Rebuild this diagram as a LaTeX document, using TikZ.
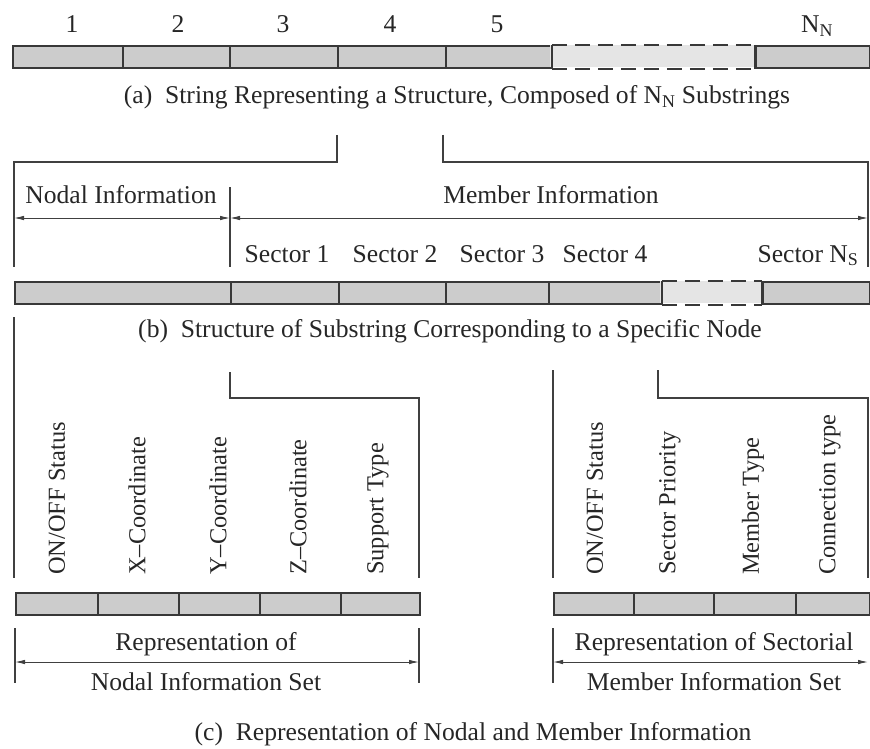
\documentclass[tikz,border=0pt]{standalone}
\usepackage{fontspec}
\setmainfont{Liberation Serif}
\usetikzlibrary{arrows.meta}
\begin{document}
\begin{tikzpicture}[x=1pt,y=-1pt,
  txt/.style={font=\fontsize{25.6}{28}\selectfont, text=black!85, inner sep=0pt},
  vtxt/.style={txt, font=\fontsize{24.4}{27}\selectfont, rotate=90, anchor=west},
  cell/.style={draw=black!78, line width=1.9pt, fill=black!20, inner sep=0pt,
    minimum height=22pt, anchor=north west},
  gapcell/.style={draw=none, fill=black!10, inner sep=0pt,
    minimum height=22pt, anchor=north west},
  gapline/.style={draw=black!78, line width=1.9pt, dash pattern=on 15pt off 8pt},
  bracket/.style={draw=black!75, line width=1.2pt},
  dim/.style={draw=black!75, line width=0.9pt, {Latex[length=10pt,width=4.5pt]}-{Latex[length=10pt,width=4.5pt]}}
]
\useasboundingbox (0,0) rectangle (870,749);
\clip (0,0) rectangle (870,749);

% ---------- (a) whole string ----------
\foreach \i/\l/\r in {1/12/122, 2/122/229, 3/229/337, 4/337/445, 5/445/550, 7/755/869}
  \node[cell, minimum width={\r-\l}] (a\i) at (\l,45) {};
\node[gapcell, minimum width=205] (a6) at (550,45) {};
\draw[gapline] (a5.north east) -- (a7.north west);
\draw[gapline] (a5.south east) -- (a7.south west);
\draw[draw=black!78, line width=1.9pt] (a5.north east) -- (a5.south east) (a7.north west) -- (a7.south west);

\foreach \i/\x in {1/72, 2/178, 3/283, 4/390, 5/497}
  \node[txt, anchor=base] (na\i) at (\x,33) {\i};
\node[txt, anchor=base] (naN) at (817,33) {N\textsubscript{N}};
\node[txt, anchor=base] (capa) at (457,104)
  {(a)\enspace String Representing a Structure, Composed of N\textsubscript{N} Substrings};

% ---------- (b) one substring ----------
\coordinate (bl1) at (337,135);
\coordinate (br1) at (443,135);
\coordinate (bl2) at (14,267);
\coordinate (br2) at (868,267);
\draw[bracket] (bl1) |- (bl2 |- 0,162) -- (bl2);
\draw[bracket] (br1) |- (br2 |- 0,162) -- (br2);
\coordinate (bdivtop) at (230,187);
\coordinate (bdivbot) at (230,267);
\draw[bracket] (bdivtop) -- (bdivbot);
\coordinate (nodL) at (14,218);
\coordinate (nodR) at (230,218);
\coordinate (memR) at (868,218);
\draw[dim] (nodL) -- (nodR);
\draw[dim] (nodR) -- (memR);
\node[txt, anchor=base] (nodinfo) at (121,203) {Nodal Information};
\node[txt, anchor=base] (meminfo) at (551,203) {Member Information};

\foreach \i/\x in {1/287, 2/395, 3/502, 4/605}
  \node[txt, anchor=base] (sec\i) at (\x,262) {Sector \i};
\node[txt, anchor=base] (secN) at (808,262) {Sector N\textsubscript{S}};

\foreach \i/\l/\r in {1/14/230, 2/230/338, 3/338/445, 4/445/548, 5/548/660, 7/762/869}
  \node[cell, minimum width={\r-\l}] (b\i) at (\l,281) {};
\node[gapcell, minimum width=102] (b6) at (660,281) {};
\draw[gapline] (b5.north east) -- (b7.north west);
\draw[gapline] (b5.south east) -- (b7.south west);
\draw[draw=black!78, line width=1.9pt] (b5.north east) -- (b5.south east) (b7.north west) -- (b7.south west);

\node[txt, anchor=base] (capb) at (450,337)
  {(b)\enspace Structure of Substring Corresponding to a Specific Node};

% ---------- (c) nodal and member information ----------
\coordinate (cL0) at (14,317);
\coordinate (cL1) at (14,578);
\draw[bracket] (cL0) -- (cL1);
\coordinate (cN0) at (230,372);
\coordinate (cN1) at (419,578);
\draw[bracket] (cN0) |- (cN1 |- 0,398) -- (cN1);
\coordinate (cM0) at (553,370);
\coordinate (cM1) at (553,578);
\draw[bracket] (cM0) -- (cM1);
\coordinate (cS0) at (658,370);
\coordinate (cS1) at (868,578);
\draw[bracket] (cS0) |- (cS1 |- 0,398) -- (cS1);

\foreach \i/\x/\t in {1/57/{ON/OFF Status}, 2/137/{X--Coordinate}, 3/218/{Y--Coordinate},
                      4/298/{Z--Coordinate}, 5/378/{Support Type}}
  \node[vtxt] (vn\i) at (\x,575) {\t};
\foreach \i/\x/\t in {1/595/{ON/OFF Status}, 2/670/{Sector Priority}, 3/753/{Member Type},
                      4/830/{Connection type}}
  \node[vtxt] (vm\i) at (\x,575) {\t};

\foreach \i/\l/\r in {1/15/97, 2/97/178, 3/178/259, 4/259/340, 5/340/419}
  \node[cell, minimum width={\r-\l}] (cn\i) at (\l,592) {};
\foreach \i/\l/\r in {1/553/633, 2/633/713, 3/713/795, 4/795/869}
  \node[cell, minimum width={\r-\l}] (cm\i) at (\l,592) {};

\coordinate (tn0) at (15,628);  \coordinate (tn1) at (15,683);
\coordinate (tn2) at (419,628); \coordinate (tn3) at (419,683);
\coordinate (tm0) at (553,628); \coordinate (tm1) at (553,683);
\draw[bracket] (tn0) -- (tn1) (tn2) -- (tn3) (tm0) -- (tm1);
\coordinate (an0) at (15,662); \coordinate (an1) at (419,662);
\coordinate (am0) at (553,662); \coordinate (am1) at (868,662);
\draw[dim] (an0) -- (an1);
\draw[dim] (am0) -- (am1);

\node[txt, anchor=base] (rn1) at (206,650) {Representation of};
\node[txt, anchor=base] (rn2) at (206,690) {Nodal Information Set};
\node[txt, anchor=base] (rm1) at (714,650) {Representation of Sectorial};
\node[txt, anchor=base] (rm2) at (714,690) {Member Information Set};

\node[txt, anchor=base] (capc) at (473,740)
  {(c)\enspace Representation of Nodal and Member Information};
\end{tikzpicture}
\end{document}
